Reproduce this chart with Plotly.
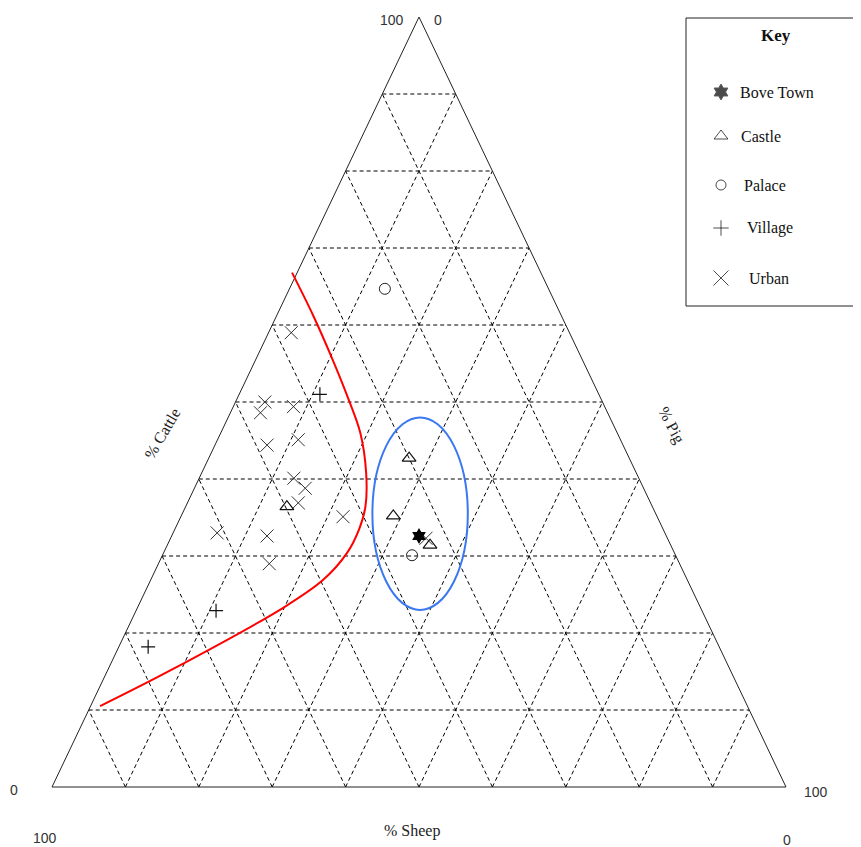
import plotly.graph_objects as go

# compositions in percent: cattle (top corner), pig (bottom right), sheep (bottom left)
bove_cattle = [32.6]
bove_pig = [33.7]
bove_sheep = [33.7]

castle_cattle = [42.7, 35.2, 31.4, 36.4]
castle_pig = [27.3, 28.9, 35.8, 13.8]
castle_sheep = [30.0, 35.9, 32.8, 49.8]

palace_cattle = [64.7, 30.1]
palace_pig = [13.0, 34.0]
palace_sheep = [22.3, 35.9]

village_cattle = [51.0, 22.9, 18.2]
village_pig = [11.0, 10.9, 4.0]
village_sheep = [38.0, 66.2, 77.8]

urban_cattle = [32.3, 59.0, 50.0, 48.6, 49.4, 44.4, 45.1, 40.1, 38.8, 36.9, 35.1, 33.0, 32.6, 29.0]
urban_pig = [34.8, 3.1, 4.0, 4.1, 8.2, 7.1, 11.0, 12.9, 15.1, 15.1, 22.1, 6.0, 13.0, 15.1]
urban_sheep = [32.9, 37.9, 46.0, 47.3, 42.4, 48.5, 43.9, 47.0, 46.1, 48.0, 42.8, 61.0, 54.4, 55.9]

# hand drawn red boundary
line_cattle = [66.8, 61.3, 55.8, 50.6, 46.0, 40.8, 36.4, 33.5, 30.4, 26.9, 23.3, 15.1, 10.5]
line_pig = [-0.7, 4.9, 10.2, 15.0, 19.0, 22.4, 24.5, 25.1, 25.0, 23.5, 19.9, 8.5, 1.3]
line_sheep = [33.9, 33.8, 34.0, 34.4, 35.0, 36.8, 39.1, 41.4, 44.6, 49.6, 56.8, 76.4, 88.2]

# blue ellipse round the Bove Town group (centre composition, half sizes in %)
ring_cattle, ring_pig, ring_sheep = 35.5, 32.4, 32.1
ring_half_w, ring_half_h = 6.5, 12.5

grid_levels = [10, 20, 30, 40, 50, 60, 70, 80, 90]
key_labels = ["Bove Town", "Castle", "Palace", "Village", "Urban"]

# page pixels; the html body adds an 8px margin
PAD = 8
W, H = 861, 847
X0, X1 = 52, 786   # pixel x of bottom corners
Y0, Y1 = 787, 17   # pixel y of base and apex
SERIF = "Liberation Serif"
SANS = "Liberation Sans"


def tern(cattle, pig, sheep):
    xs, ys = [], []
    for c, p, s in zip(cattle, pig, sheep):
        t = c + p + s
        xs.append((p + c / 2) / t)
        ys.append(c / t)
    return xs, ys


fig = go.Figure()

# dashed grid
gx, gy = [], []
for k in grid_levels:
    for c, p in [((k, k), (0, 100 - k)), ((0, 100 - k), (k, k)), ((0, 100 - k), (100 - k, 0))]:
        xs, ys = tern(c, p, [100 - c[0] - p[0], 100 - c[1] - p[1]])
        gx += xs + [None]
        gy += ys + [None]
fig.add_trace(go.Scatter(x=gx, y=gy, mode="lines", hoverinfo="skip",
                         line=dict(color="#000", width=1, dash="4px,3px")))

# triangle frame
fx, fy = tern([0, 0, 100, 0], [0, 100, 0, 0], [100, 0, 0, 100])
fig.add_trace(go.Scatter(x=fx, y=fy, mode="lines", line=dict(color="#222", width=1)))

lx, ly = tern(line_cattle, line_pig, line_sheep)
fig.add_trace(go.Scatter(x=lx, y=ly, mode="lines",
                         line=dict(color="#ff0000", width=2, shape="spline", smoothing=1)))

ux, uy = tern(urban_cattle, urban_pig, urban_sheep)
fig.add_trace(go.Scatter(x=ux, y=uy, mode="markers",
                         marker=dict(symbol="x-thin-open", size=13, color="#333",
                                     line=dict(color="#333", width=1))))
vx, vy = tern(village_cattle, village_pig, village_sheep)
fig.add_trace(go.Scatter(x=vx, y=vy, mode="markers",
                         marker=dict(symbol="cross-thin-open", size=10, color="#111",
                                     line=dict(color="#111", width=1.2))))
px_, py_ = tern(palace_cattle, palace_pig, palace_sheep)
fig.add_trace(go.Scatter(x=px_, y=py_, mode="markers",
                         marker=dict(symbol="circle-open", size=11, color="#222",
                                     line=dict(color="#222", width=1))))
cx, cy = tern(castle_cattle, castle_pig, castle_sheep)
fig.add_trace(go.Scatter(x=cx, y=cy, mode="markers",
                         marker=dict(symbol="triangle-up-open", size=12, color="#111",
                                     line=dict(color="#111", width=1.2))))
bx, by = tern(bove_cattle, bove_pig, bove_sheep)
fig.add_trace(go.Scatter(x=bx, y=by, mode="markers",
                         marker=dict(symbol="hexagram", size=12, color="#000", line=dict(width=0))))

rx, ry = tern([ring_cattle], [ring_pig], [ring_sheep])
fig.add_shape(type="circle", xref="x", yref="y",
              x0=rx[0] - ring_half_w / 100, x1=rx[0] + ring_half_w / 100,
              y0=ry[0] - ring_half_h / 100, y1=ry[0] + ring_half_h / 100,
              line=dict(color="#3a78f2", width=2))

# key (page pixel coordinates on an overlay axis)
key_y = [92, 136, 185, 228, 278]
key_tx = [738, 739, 742, 745, 747]
key_sym = ["hexagram", "triangle-up-open", "circle-open", "cross-thin-open", "x-thin-open"]
key_size = [12, 12, 10, 11, 15]
fig.add_trace(go.Scatter(x=[721] * 5, y=key_y, mode="markers", xaxis="x2", yaxis="y2",
                         marker=dict(symbol=key_sym, size=key_size, color="#000",
                                     line=dict(color="#111", width=1))))
fig.add_shape(type="rect", xref="x2", yref="y2", x0=686, x1=860, y0=18, y1=306,
              line=dict(color="#222", width=1))
fig.add_annotation(x=776, y=35, xref="x2", yref="y2", text="<b>Key</b>", showarrow=False,
                   font=dict(family=SERIF, size=17, color="#111"))
for lab, tx, ty in zip(key_labels, key_tx, key_y):
    fig.add_annotation(x=tx, y=ty, xref="x2", yref="y2", text=lab, showarrow=False,
                       xanchor="left", font=dict(family=SERIF, size=16, color="#111"))

# corner numbers and axis titles
for t, x, y in [("100", 392, 20), ("0", 438, 20), ("0", 14, 790), ("100", 45, 838),
                ("100", 816, 792), ("0", 787, 840)]:
    fig.add_annotation(x=x, y=y, xref="x2", yref="y2", text=t, showarrow=False,
                       font=dict(family=SANS, size=14, color="#333"))
fig.add_annotation(x=412, y=831, xref="x2", yref="y2", text="% Sheep", showarrow=False,
                   font=dict(family=SERIF, size=16, color="#222"))
fig.add_annotation(x=162, y=433, xref="x2", yref="y2", text="% Cattle", showarrow=False,
                   textangle=-60, font=dict(family=SERIF, size=16, color="#222"))
fig.add_annotation(x=671, y=425, xref="x2", yref="y2", text="% Pig", showarrow=False,
                   textangle=62, font=dict(family=SERIF, size=16, color="#222"))

fig.update_layout(
    width=W - PAD, height=H - PAD, autosize=False, showlegend=False,
    margin=dict(l=0, r=0, t=0, b=0),
    paper_bgcolor="white", plot_bgcolor="white",
    xaxis=dict(range=[(PAD - X0) / (X1 - X0), (W - X0) / (X1 - X0)], visible=False, fixedrange=True),
    yaxis=dict(range=[-(H - Y0) / (Y0 - Y1), (Y0 - PAD) / (Y0 - Y1)], visible=False, fixedrange=True),
    xaxis2=dict(range=[PAD, W], overlaying="x", anchor="y2", visible=False, fixedrange=True),
    yaxis2=dict(range=[H, PAD], overlaying="y", anchor="x2", visible=False, fixedrange=True),
)

fig.write_html("out.html")
